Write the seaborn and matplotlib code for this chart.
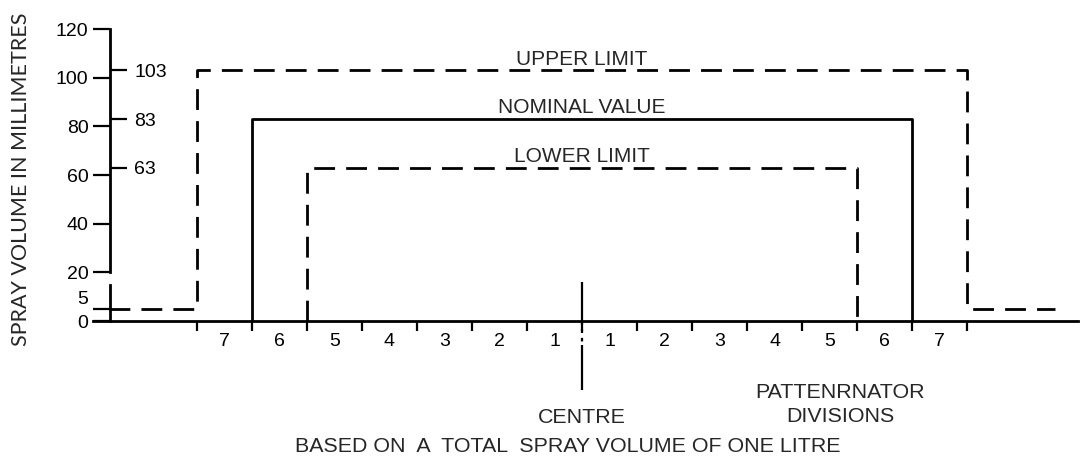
import matplotlib
matplotlib.use("Agg")
import matplotlib.pyplot as plt
import matplotlib.transforms as mtransforms
import pandas as pd
import seaborn as sns

# spray pattern outlines: x in patternator divisions from the centre, y in ml
UPPER_X = [-8.6, -7, -7, 7, 7, 8.6]
UPPER_Y = [5, 5, 103, 103, 5, 5]
NOMINAL_X = [-6, -6, 6, 6]
NOMINAL_Y = [0, 83, 83, 0]
LOWER_X = [-5, -5, 5, 5]
LOWER_Y = [0, 63, 63, 0]

PROFILE_NAMES = ["UPPER LIMIT", "NOMINAL VALUE", "LOWER LIMIT"]
PROFILE_LEVELS = [103, 83, 63]

Y_TICKS = [0, 5, 20, 40, 60, 80, 100, 120]
Y_TICK_LABELS = ["0", "5", "20", "40", "60", "80", "100", "120"]
LIMIT_TICKS = [63, 83, 103]
LIMIT_TICK_LABELS = ["63", "83", "103"]

DIV_EDGES = [-7, -6, -5, -4, -3, -2, -1, 0, 1, 2, 3, 4, 5, 6, 7]
DIV_CENTRES = [-6.5, -5.5, -4.5, -3.5, -2.5, -1.5, -0.5,
               0.5, 1.5, 2.5, 3.5, 4.5, 5.5, 6.5]
DIV_LABELS = ["7", "6", "5", "4", "3", "2", "1",
              "1", "2", "3", "4", "5", "6", "7"]

# pixel mapping of the figure: x = 582 + 55*div, y = 321 - 2.433*ml
XLIM = (-582 / 55, (1081 - 582) / 55)
YLIM = ((321 - 462) / 2.433, 321 / 2.433)
AXIS_X = (110 - 582) / 55

LW = 2.0
DASH = (7.5, 4.0)


def main():
    sns.set_theme(style="white")
    plt.rcParams["font.family"] = ["Liberation Sans", "DejaVu Sans"]

    profiles = pd.concat([
        pd.DataFrame({"division": UPPER_X, "volume": UPPER_Y, "curve": "UPPER LIMIT"}),
        pd.DataFrame({"division": NOMINAL_X, "volume": NOMINAL_Y, "curve": "NOMINAL VALUE"}),
        pd.DataFrame({"division": LOWER_X, "volume": LOWER_Y, "curve": "LOWER LIMIT"}),
    ], ignore_index=True)

    fig = plt.figure(figsize=(10.81, 4.62), dpi=100)
    ax = fig.add_axes([0, 0, 1, 1])
    ax.patch.set_alpha(0)

    sns.lineplot(
        data=profiles, x="division", y="volume",
        hue="curve", style="curve",
        palette={n: "black" for n in PROFILE_NAMES},
        dashes={"UPPER LIMIT": DASH, "NOMINAL VALUE": "", "LOWER LIMIT": DASH},
        sort=False, estimator=None, legend=False, linewidth=LW, ax=ax,
    )

    for name, level in zip(PROFILE_NAMES, PROFILE_LEVELS):
        ax.text(0, level + 2.3, name, ha="center", va="baseline", fontsize=15)

    # centre marker across the division scale
    ax.plot([0, 0], [16, 0], color="black", lw=1.6, solid_capstyle="butt")
    ax.plot([0, 0], [0, -9.9], color="black", lw=1.6, linestyle=(0, (1.6, 2.2)))
    ax.plot([0, 0], [-9.9, -28.4], color="black", lw=1.6, solid_capstyle="butt")

    ax.set_xlim(*XLIM)
    ax.set_ylim(*YLIM)

    for side in ["top", "right"]:
        ax.spines[side].set_visible(False)
    ax.spines["left"].set_position(("data", AXIS_X))
    ax.spines["left"].set_bounds(20, 120)
    ax.spines["bottom"].set_position(("data", 0))
    ax.spines["bottom"].set_bounds((93 - 582) / 55, (1078 - 582) / 55)
    for side in ["left", "bottom"]:
        ax.spines[side].set_linewidth(LW)
        ax.spines[side].set_color("black")

    ax.set_yticks(Y_TICKS)
    ax.set_yticklabels(Y_TICK_LABELS)
    ax.tick_params(axis="y", left=True, direction="out", length=12, width=1.6,
                   pad=3.5, labelsize=14, colors="black")
    # the "5" label sits a little above its line, clear of the "0"
    five = ax.get_yticklabels()[1]
    five.set_transform(five.get_transform()
                       + mtransforms.ScaledTranslation(0, 8 / 72, fig.dpi_scale_trans))

    ax.set_xticks(DIV_EDGES)
    ax.set_xticklabels([""] * len(DIV_EDGES))
    ax.set_xticks(DIV_CENTRES, minor=True)
    ax.set_xticklabels(DIV_LABELS, minor=True)
    ax.tick_params(axis="x", which="major", bottom=True, direction="out",
                   length=7, width=1.6, colors="black")
    ax.tick_params(axis="x", which="minor", bottom=True, length=0, pad=9,
                   labelsize=14, colors="black")
    ax.set_xlabel("")
    ax.set_ylabel("")
    ax.grid(False)

    # limit values on the right of the axis, plus the broken lower axis piece
    ax2 = ax.twinx()
    ax2.set_ylim(*YLIM)
    for side in ["top", "left", "bottom"]:
        ax2.spines[side].set_visible(False)
    ax2.spines["right"].set_position(("data", AXIS_X))
    ax2.spines["right"].set_bounds(0, 14.8)
    ax2.spines["right"].set_linewidth(LW)
    ax2.spines["right"].set_color("black")
    ax2.set_yticks(LIMIT_TICKS)
    ax2.set_yticklabels(LIMIT_TICK_LABELS)
    ax2.tick_params(axis="y", right=True, direction="out", length=12, width=1.6,
                    pad=5.5, labelsize=14, colors="black")
    ax2.grid(False)

    ax.text(0, -39.6, "CENTRE", ha="center", va="center", fontsize=15.4)
    ax.text((840 - 582) / 55, -34.3, "PATTENRNATOR\nDIVISIONS", ha="center",
            va="center", fontsize=15.4, linespacing=1.3)
    ax.text((568 - 582) / 55, -51.7, "BASED ON  A  TOTAL  SPRAY VOLUME OF ONE LITRE",
            ha="center", va="center", fontsize=15.4)

    fig.text(21 / 1081, 1 - 179 / 462, "SPRAY VOLUME IN MILLIMETRES", rotation=90,
             ha="center", va="center", fontsize=15.5, family=["Lato", "DejaVu Sans"])

    fig.savefig("out.png", dpi=100)
    plt.close(fig)


if __name__ == "__main__":
    main()
